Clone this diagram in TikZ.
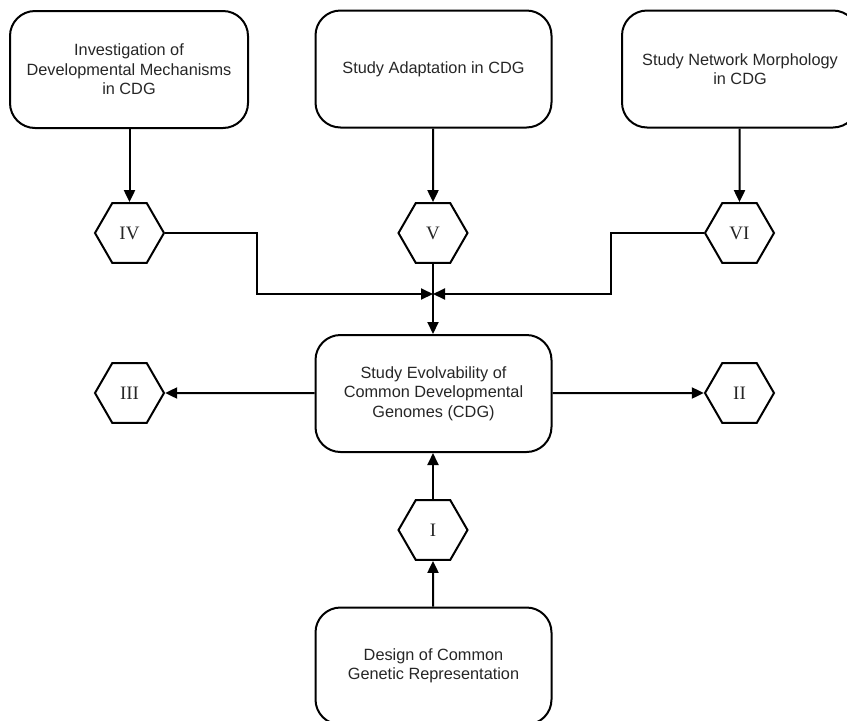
\documentclass[tikz,border=0pt]{standalone}
\usepackage{fontspec}
\usepackage{tikz}
\usetikzlibrary{shapes.geometric, arrows.meta}
\setmainfont{Liberation Sans}
\newfontfamily\numfont{Liberation Serif}
\tikzstyle{box} = [draw, rounded corners = 25pt, line width = 2pt, minimum width = 236pt, minimum height = 117pt, align = center, text = black!85, font = \fontsize{16.3}{19.5}\selectfont]
\tikzstyle{hexa} = [draw, regular polygon, regular polygon sides = 6, minimum size = 69pt, inner sep = 0pt, line width = 2pt, text = black!85, font = \numfont\fontsize{19}{19}\selectfont]
\tikzstyle{link} = [-{Triangle[length = 12pt, width = 11pt]}, line width = 2pt]

\begin{document}
\begin{tikzpicture}[x = 1pt, y = -1pt]
        \useasboundingbox (0, 0) rectangle (847, 721);
        \node (Mech) at (129, 69.5) [box, minimum width = 238pt] {Investigation of\\Developmental Mechanisms\\in CDG};
        \node (Adapt) at (433.5, 69) [box] {Study Adaptation in CDG};
        \node (Morph) at (740, 69) [box] {Study Network Morphology\\in CDG};
        \node (Evol) at (433.5, 393.5) [box] {Study Evolvability of\\Common Developmental\\Genomes (CDG)};
        \node (Design) at (433.5, 666) [box] {Design of Common\\Genetic Representation};

        \node (IV) at (129.5, 233) [hexa] {IV};
        \node (V) at (433, 233) [hexa] {V};
        \node (VI) at (739.5, 233) [hexa] {VI};
        \node (III) at (129.5, 393) [hexa] {III};
        \node (II) at (739.5, 393) [hexa] {II};
        \node (I) at (433, 530) [hexa] {I};

        \coordinate (Join) at (433, 294);
        \coordinate (LeftBend) at (257, 294);
        \coordinate (RightBend) at (611, 294);

        \draw [link] (Mech.south -| IV) -- (IV);
        \draw [link] (Adapt.south -| V) -- (V);
        \draw [link] (Morph.south -| VI) -- (VI);
        \draw [link] (IV.east) -| (LeftBend) -- (Join);
        \draw [link] (VI.west) -| (RightBend) -- (Join);
        \draw [link] (V) -- (V |- Evol.north);
        \draw [link] (Evol.west |- III) -- (III.east);
        \draw [link] (Evol.east |- II) -- (II.west);
        \draw [link] (Design.north -| I) -- (I);
        \draw [link] (I) -- (I |- Evol.south);
    \end{tikzpicture}
\end{document}
